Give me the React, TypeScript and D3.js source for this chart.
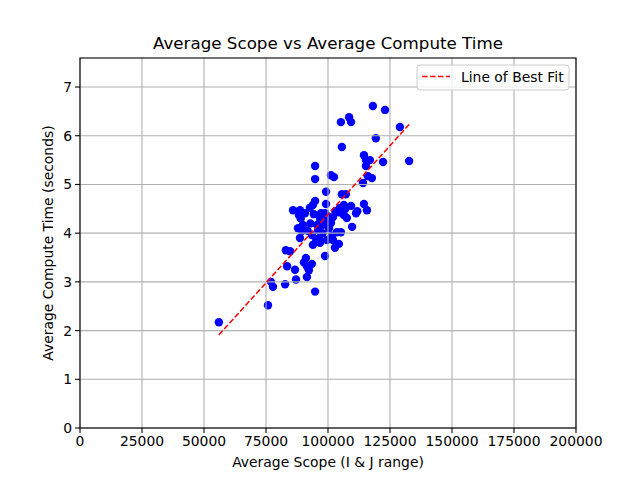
import React from "react";
import * as d3 from "d3";

const scopeX: number[] = [
  56000, 75800, 77000, 77800, 82700, 83000, 84700, 83500, 86700, 87100,
  85900, 88700, 88300, 87900, 89900, 88700, 90300, 91100, 91500, 92300,
  91500, 93500, 94800, 90700, 92700, 93900, 94300, 94800, 94800, 94800,
  95600, 93500, 93900, 95200, 96800, 96000, 97200, 96800, 98000, 98800,
  99200, 99200, 98800, 99600, 101200, 102400, 100400, 101200, 102000, 102000,
  102800, 103600, 104400, 105200, 104400, 104800, 105600, 105200, 105600, 107200,
  106400, 107600, 106400, 108500, 109300, 109300, 109700, 111300, 114100, 114500,
  115300, 114500, 115700, 116900, 116100, 117700, 118100, 119300, 122200, 123000,
  129000, 132700, 115300, 89000, 91800, 97800, 100000, 103000, 96400, 92900,
  89600, 99800, 101600, 107000, 111800
];

const computeY: number[] = [
  2.17, 2.52, 3.0, 2.9, 2.95, 3.65, 3.63, 3.32, 3.25, 3.05,
  4.47, 4.47, 4.37, 4.1, 4.17, 3.9, 3.4, 3.49, 3.32, 3.24,
  3.1, 3.37, 2.8, 4.41, 4.52, 4.58, 4.39, 4.66, 5.38, 5.11,
  4.17, 3.96, 3.76, 3.84, 3.8, 4.06, 4.41, 4.29, 4.17, 4.41,
  4.85, 4.6, 3.53, 3.86, 5.19, 5.15, 4.1, 4.21, 4.33, 3.86,
  3.7, 4.02, 3.78, 4.02, 4.43, 4.52, 4.8, 6.28, 5.77, 4.8,
  4.37, 4.31, 4.58, 6.38, 6.28, 4.56, 4.13, 4.41, 5.03, 5.6,
  5.38, 4.6, 4.47, 5.5, 5.17, 5.13, 6.61, 5.95, 5.46, 6.53,
  6.18, 5.48, 5.5, 4.3, 4.05, 4.0, 4.25, 4.45, 3.9, 4.2,
  4.05, 4.35, 3.95, 4.5, 4.45
];

const fitSlope = 5.632e-5;
const fitIntercept = -1.244;

const xTicks: number[] = [0, 25000, 50000, 75000, 100000, 125000, 150000, 175000, 200000];
const yTicks: number[] = [0, 1, 2, 3, 4, 5, 6, 7];

const titleText = "Average Scope vs Average Compute Time";
const xLabelText = "Average Scope (I & J range)";
const yLabelText = "Average Compute Time (seconds)";
const legendText = "Line of Best Fit";

export default function App() {
  const W = 640, H = 480;
  const left = 80, right = 576, top = 58, bottom = 428;
  const x = d3.scaleLinear().domain([0, 200000]).range([left, right]);
  const y = d3.scaleLinear().domain([0, 7.596]).range([bottom, top]);
  const font = "DejaVu Sans, sans-serif";

  const xMin = d3.min(scopeX)!;
  const xMax = d3.max(scopeX)!;
  const fitPts: [number, number][] = [
    [xMin, fitSlope * xMin + fitIntercept],
    [xMax, fitSlope * xMax + fitIntercept],
  ];
  const line = d3.line<[number, number]>().x(d => x(d[0])).y(d => y(d[1]));

  return (
    <svg width={W} height={H} style={{ position: "absolute", left: 0, top: 0, background: "#fff" }}>
      <rect x={0} y={0} width={W} height={H} fill="#fff" />
      {scopeX.map((v, i) => (
        <circle key={i} cx={x(v)} cy={y(computeY[i])} r={4.2} fill="#0000ff" />
      ))}
      {xTicks.map(t => (
        <line key={"gx" + t} x1={x(t)} x2={x(t)} y1={top} y2={bottom} stroke="#b0b0b0" strokeWidth={1.1} />
      ))}
      {yTicks.map(t => (
        <line key={"gy" + t} x1={left} x2={right} y1={y(t)} y2={y(t)} stroke="#b0b0b0" strokeWidth={1.1} />
      ))}
      <path d={line(fitPts)!} fill="none" stroke="#ff0000" strokeWidth={1.5} strokeDasharray="5.55,2.4" />
      <rect x={left} y={top} width={right - left} height={bottom - top} fill="none" stroke="#000" strokeWidth={1.1} />
      {xTicks.map(t => (
        <g key={"tx" + t}>
          <line x1={x(t)} x2={x(t)} y1={bottom} y2={bottom + 4.9} stroke="#000" strokeWidth={1.1} />
          <text x={x(t)} y={bottom + 18} textAnchor="middle" fontFamily={font} fontSize={13.9} fill="#000">{t}</text>
        </g>
      ))}
      {yTicks.map(t => (
        <g key={"ty" + t}>
          <line x1={left - 4.9} x2={left} y1={y(t)} y2={y(t)} stroke="#000" strokeWidth={1.1} />
          <text x={left - 8} y={y(t) + 5} textAnchor="end" fontFamily={font} fontSize={13.9} fill="#000">{t}</text>
        </g>
      ))}
      <text x={(left + right) / 2} y={49} textAnchor="middle" fontFamily={font} fontSize={16.7} fill="#000">{titleText}</text>
      <text x={(left + right) / 2} y={467} textAnchor="middle" fontFamily={font} fontSize={13.9} fill="#000">{xLabelText}</text>
      <text transform={`translate(53,${(top + bottom) / 2}) rotate(-90)`} textAnchor="middle" fontFamily={font} fontSize={13.9} fill="#000">{yLabelText}</text>
      <g>
        <rect x={417} y={65} width={152} height={25} rx={3} fill="#fff" fillOpacity={0.8} stroke="#cccccc" strokeWidth={1} />
        <line x1={422} x2={450} y1={76.5} y2={76.5} stroke="#ff0000" strokeWidth={1.5} strokeDasharray="5.55,2.4" />
        <text x={461} y={81.5} fontFamily={font} fontSize={13.9} fill="#000">{legendText}</text>
      </g>
    </svg>
  );
}
